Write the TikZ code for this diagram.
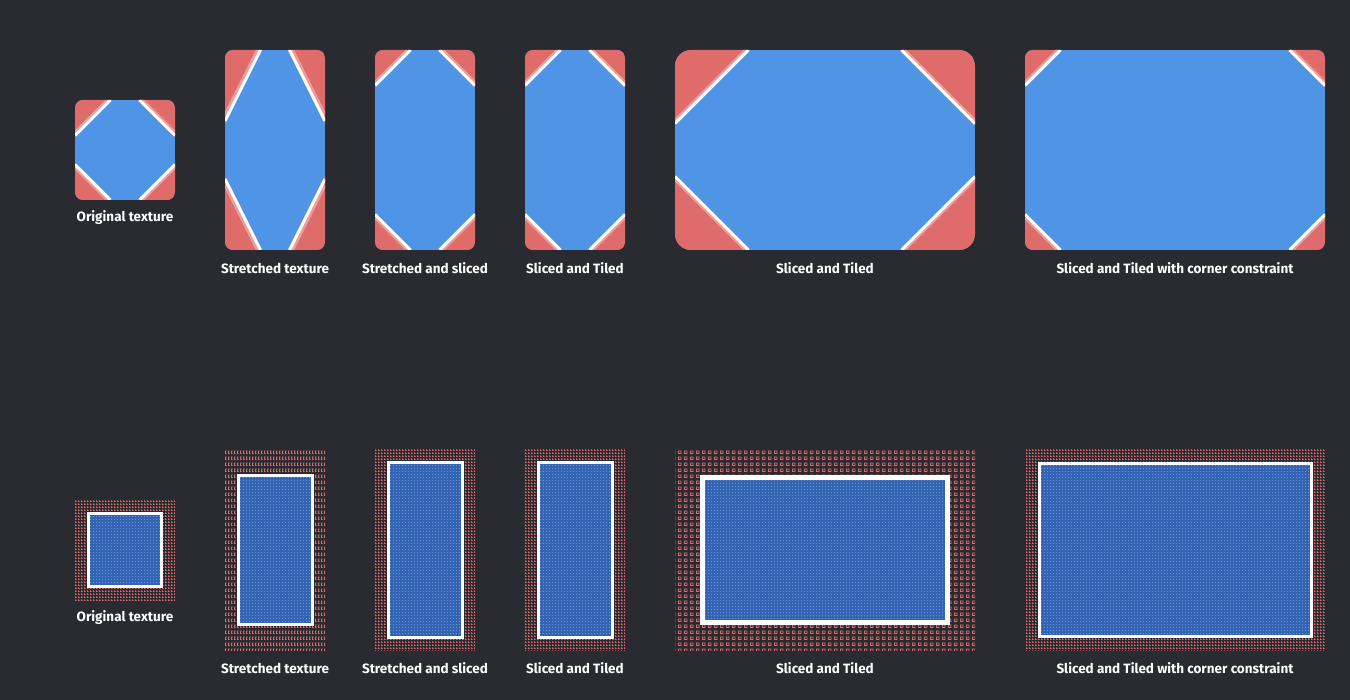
\documentclass[tikz,border=0pt]{standalone}
\usepackage{fontspec}
\setmainfont{Fira Sans}
\usetikzlibrary{patterns.meta}

\definecolor{bgdark}{HTML}{2A2B30}
\definecolor{texblue}{HTML}{5094E5}
\definecolor{texred}{HTML}{E06B6B}
\definecolor{deepblue}{HTML}{3364B4}
\definecolor{paleblue}{HTML}{6F93D2}

\tikzdeclarepattern{name=redfine, type=uncolored,
  bounding box={(0pt,0pt) and (3pt,3pt)}, tile size={(3pt,3pt)},
  code={\fill (0pt,0pt) rectangle (2pt,1pt) (0pt,0pt) rectangle (1pt,2pt);}}
\tikzdeclarepattern{name=redtall, type=uncolored,
  bounding box={(0pt,0pt) and (3pt,6pt)}, tile size={(3pt,6pt)},
  code={\fill (0pt,0pt) rectangle (2pt,1pt) (0pt,0pt) rectangle (1pt,4pt) (0pt,3pt) rectangle (2pt,4pt);}}
\tikzdeclarepattern{name=redbig, type=uncolored,
  bounding box={(0pt,0pt) and (6pt,6pt)}, tile size={(6pt,6pt)},
  code={\fill[even odd rule] (0pt,0pt) rectangle (4pt,4pt) (1pt,1pt) rectangle (3pt,3pt);}}
\tikzdeclarepattern{name=bluegrain, type=uncolored,
  bounding box={(0pt,0pt) and (3pt,3pt)}, tile size={(3pt,3pt)},
  code={\fill (0pt,0pt) rectangle (1pt,1pt);}}

\tikzset{
  caption/.style={text=white, font=\bfseries\fontsize{13.5}{16}\selectfont},
  cutline/.style={white, line width=3pt},
  cutfade/.style={white, opacity=.35, line width=3pt},
  frameline/.style={white, line width=#1}
}

% x y w h legx legy radius
\newcommand{\slicetex}[7]{%
  \begin{scope}
    \clip[rounded corners=#7] (#1,#2) rectangle ++(#3,#4);
    \fill[texblue] (#1,#2) rectangle ++(#3,#4);
    \foreach \sx/\sy in {1/1,-1/1,1/-1,-1/-1}{
      \begin{scope}[shift={(#1+#3/2,#2+#4/2)}, xscale=\sx, yscale=\sy]
        \fill[texred] (-#3/2,-#4/2) -- ++(#5,0) -- ++(-#5,#6) -- cycle;
        \draw[cutline] (-#3/2+#5-1.5,-#4/2) -- ++(-#5+1.5,#6-1.5*#6/#5);
        \draw[cutfade] (-#3/2+#5-4.5,-#4/2) -- ++(-#5+4.5,#6-4.5*#6/#5);
      \end{scope}}
  \end{scope}}

% x y w h insetx insety pattern border
\newcommand{\ninegrid}[8]{%
  \fill[pattern=#7, pattern color=texred] (#1,#2) rectangle ++(#3,#4);
  \fill[deepblue] (#1+#5,#2+#6) rectangle (#1+#3-#5,#2+#4-#6);
  \fill[pattern=bluegrain, pattern color=paleblue] (#1+#5,#2+#6) rectangle (#1+#3-#5,#2+#4-#6);
  \draw[frameline=#8] (#1+#5,#2+#6) rectangle (#1+#3-#5,#2+#4-#6);}

\begin{document}
\begin{tikzpicture}[x=1pt, y=-1pt]
  \fill[bgdark] (0,0) rectangle (1350,700);

  \slicetex{75}{100}{100}{100}{37}{37}{8pt}
  \slicetex{225}{50}{100}{200}{37}{74}{8pt}
  \slicetex{375}{50}{100}{200}{37}{37}{8pt}
  \slicetex{525}{50}{100}{200}{37}{37}{8pt}
  \slicetex{675}{50}{300}{200}{75}{75}{16pt}
  \slicetex{1025}{50}{300}{200}{37}{37}{8pt}

  \node[caption] (origtop) at (125,218) {Original texture};
  \node[caption] (stretchtop) at (275,268) {Stretched texture};
  \node[caption] (slicedtop) at (425,268) {Stretched and sliced};
  \node[caption] (tiledtop) at (575,268) {Sliced and Tiled};
  \node[caption] (widetop) at (825,268) {Sliced and Tiled};
  \node[caption] (cornertop) at (1175,268) {Sliced and Tiled with corner constraint};

  \ninegrid{75}{500}{100}{100}{13.5}{13.5}{redfine}{3pt}
  \ninegrid{225}{450}{100}{200}{13}{25.5}{redtall}{3pt}
  \ninegrid{375}{450}{100}{200}{13}{13}{redfine}{3pt}
  \ninegrid{525}{450}{100}{200}{13}{13}{redfine}{3pt}
  \ninegrid{675}{450}{300}{200}{27.5}{27.5}{redbig}{5pt}
  \ninegrid{1025}{450}{300}{200}{14}{14}{redfine}{3pt}

  \node[caption] (origbot) at (125,618) {Original texture};
  \node[caption] (stretchbot) at (275,668) {Stretched texture};
  \node[caption] (slicedbot) at (425,668) {Stretched and sliced};
  \node[caption] (tiledbot) at (575,668) {Sliced and Tiled};
  \node[caption] (widebot) at (825,668) {Sliced and Tiled};
  \node[caption] (cornerbot) at (1175,668) {Sliced and Tiled with corner constraint};
\end{tikzpicture}
\end{document}
